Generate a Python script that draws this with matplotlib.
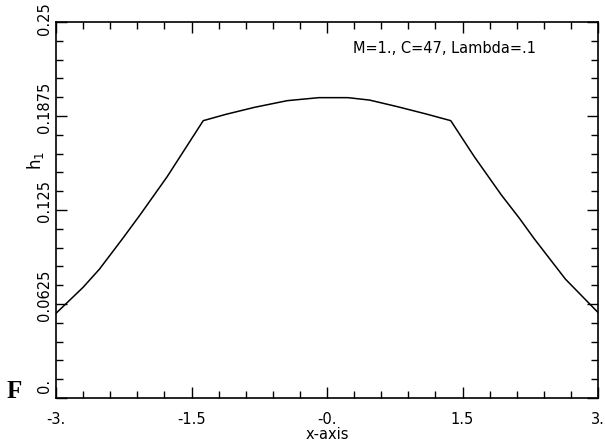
import matplotlib
matplotlib.use("Agg")
import matplotlib.pyplot as plt
from matplotlib.ticker import MultipleLocator
from matplotlib.transforms import ScaledTranslation

x_vals = [-3.0, -2.70, -2.52, -2.26, -2.07, -1.77, -1.37, -1.12, -0.80, -0.44, -0.09,
          0.23, 0.47, 0.78, 1.10, 1.37, 1.63, 1.93, 2.13, 2.29, 2.64, 3.0]
h1_vals = [0.0563, 0.0736, 0.0856, 0.1062, 0.1217, 0.1471, 0.1844, 0.1886, 0.1933, 0.1977, 0.1997,
           0.1997, 0.1981, 0.1937, 0.1888, 0.1844, 0.1605, 0.1350, 0.1195, 0.1062, 0.0790, 0.0569]

xtick_pos = [-3.0, -1.5, 0.0, 1.5, 3.0]
xtick_lab = ["-3.", "-1.5", "-0.", "1.5", "3."]
ytick_pos = [0.0, 0.0625, 0.125, 0.1875, 0.25]
ytick_lab = ["0.", "0.0625", "0.125", "0.1875", "0.25"]

fig = plt.figure(figsize=(6.05, 4.45), dpi=100)
ax = fig.add_axes([56/605, 1 - 398/445, (598-56)/605, (398-22)/445])

ax.plot(x_vals, h1_vals, color="black", lw=1.1)
ax.set_xlim(-3, 3)
ax.set_ylim(0, 0.25)

ax.set_xticks(xtick_pos)
ax.set_xticklabels(xtick_lab, fontsize=10.5)
ax.set_yticks(ytick_pos)
ax.set_yticklabels(ytick_lab, fontsize=10.5, rotation=90, va="center")
ax.xaxis.set_minor_locator(MultipleLocator(0.3))
ax.yaxis.set_minor_locator(MultipleLocator(0.0125))
ax.tick_params(which="both", direction="in", top=True, right=True, width=1.0)
ax.tick_params(which="major", length=8)
ax.tick_params(which="minor", length=5)
ax.tick_params(axis="x", which="major", pad=10)
ax.tick_params(axis="y", which="major", pad=3)
for s in ax.spines.values():
    s.set_linewidth(1.2)

# shift y tick labels upward a little, as in the reference
shifts = [12, 9, 9, 9, 3]
for lab, sh in zip(ax.get_yticklabels(), shifts):
    lab.set_transform(lab.get_transform() + ScaledTranslation(0, sh/100, fig.dpi_scale_trans))

ax.set_xlabel("x-axis", fontsize=10.5, labelpad=0)

fig.text(35/605, 1 - 160/445, r"$\mathregular{h_1}$", fontsize=12, rotation=90,
         ha="center", va="center")

ax.text(0.716, 0.93, "M=1., C=47, Lambda=.1", transform=ax.transAxes,
        ha="center", va="center", fontsize=10.5)

fig.text(7/605, 1 - 391/445, "F", family="Liberation Serif", fontweight="bold",
         fontsize=18, ha="left", va="center")

fig.savefig("out.png", dpi=100)
